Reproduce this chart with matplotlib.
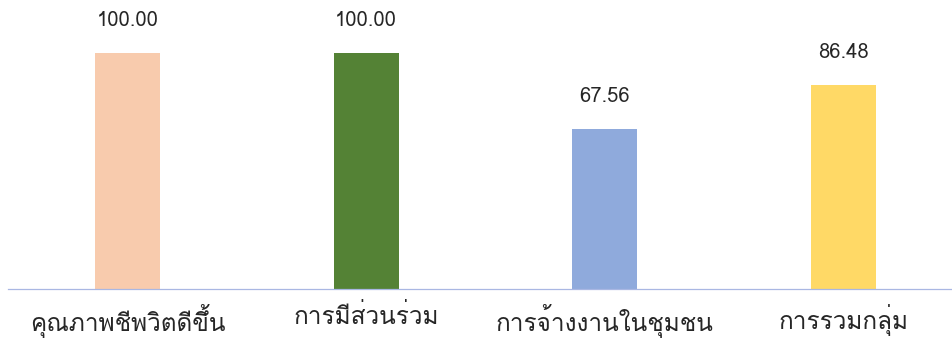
import matplotlib
matplotlib.use("Agg")
import matplotlib.pyplot as plt

# data
categories = ["คุณภาพชีพวิตดีขึ้น", "การมีส่วนร่วม", "การจ้างงานในชุมชน", "การรวมกลุ่ม"]
values = [100.00, 100.00, 67.56, 86.48]
colors = ["#F8CBAD", "#548235", "#8FAADC", "#FFD966"]

plt.rcParams["font.family"] = ["Loma", "DejaVu Sans"]

fig = plt.figure(figsize=(9.52, 3.43), dpi=100)
# axes runs a little past the right edge, like the original
ax = fig.add_axes([8.2 / 952, 54 / 343, 954.7 / 952, 283.5 / 343])

x = range(len(categories))
bars = ax.bar(x, values, width=0.272, color=colors)
for b, v in zip(bars, values):
    ax.annotate(f"{v:.2f}", (b.get_x() + b.get_width() / 2, v), xytext=(0, 23.5),
                textcoords="offset points", ha="center", va="center",
                fontsize=14.5, color="#262626")

ax.set_xlim(-0.5, len(categories) - 0.5)
ax.set_ylim(0, 120)
ax.set_xticks(list(x))
ax.set_xticklabels(categories, fontsize=17.5, color="#262626")
ax.tick_params(axis="x", length=0, pad=11)
ax.set_yticks([])
for s in ["top", "right", "left"]:
    ax.spines[s].set_visible(False)
ax.spines["bottom"].set_color("#A9B7E3")
ax.spines["bottom"].set_linewidth(0.9)

fig.savefig("out.png")
